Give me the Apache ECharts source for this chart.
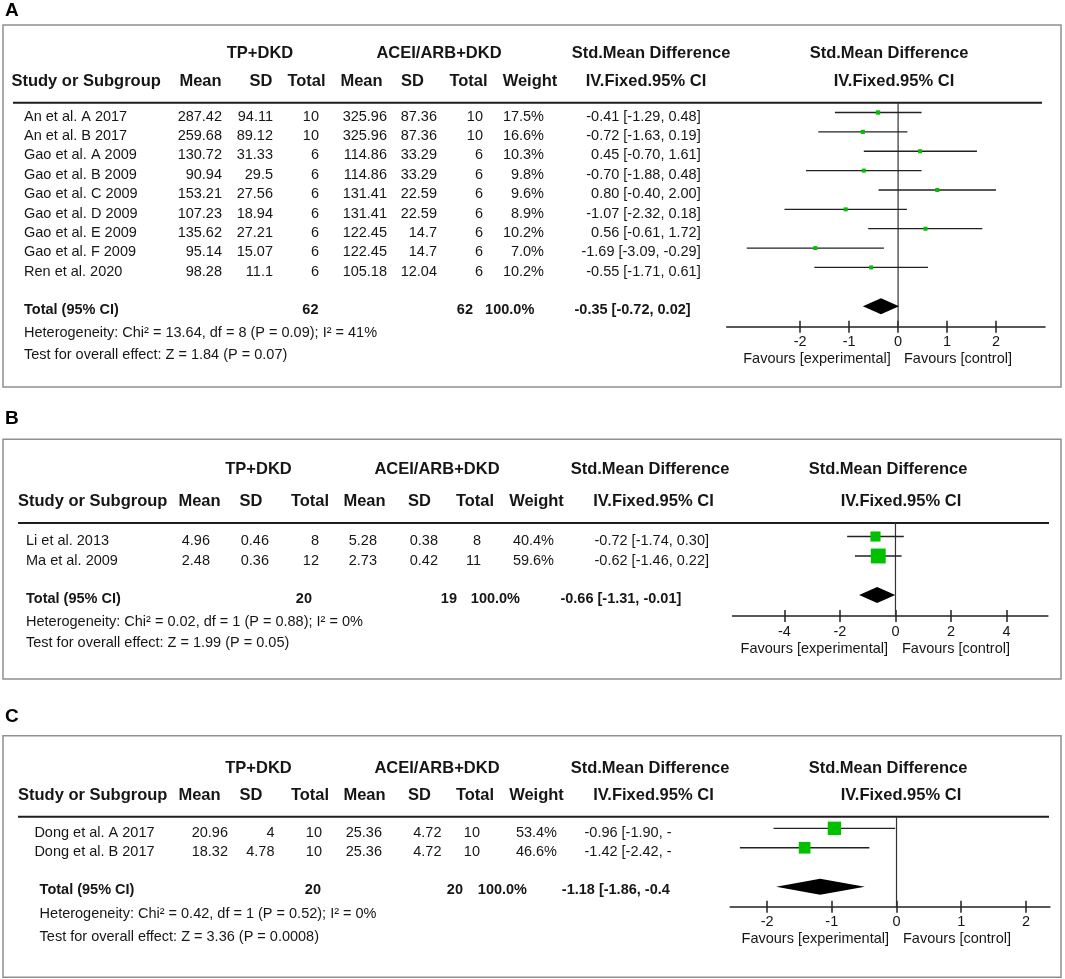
<!DOCTYPE html>
<html><head><meta charset="utf-8">
<script src="https://cdn.jsdelivr.net/npm/echarts@6/dist/echarts.min.js"></script>
<style>html,body{margin:0;padding:0;background:#fff;}#c{width:1065px;height:979px;}</style>
</head><body><div id="c"></div>
<script>
// ---------------- DATA ----------------
const header1Labels = ['TP+DKD', 'ACEI/ARB+DKD', 'Std.Mean Difference', 'Std.Mean Difference'];
const header2Labels = ['Study or Subgroup', 'Mean', 'SD', 'Total', 'Mean', 'SD', 'Total', 'Weight', 'IV.Fixed.95% CI', 'IV.Fixed.95% CI'];
const favoursLabels = ['Favours [experimental]', 'Favours [control]'];

// Panel A
const studiesA = ['An et al. A 2017', 'An et al. B 2017', 'Gao et al. A 2009', 'Gao et al. B 2009', 'Gao et al. C 2009', 'Gao et al. D 2009', 'Gao et al. E 2009', 'Gao et al. F 2009', 'Ren et al. 2020'];
const meanTA = [287.42, 259.68, 130.72, 90.94, 153.21, 107.23, 135.62, 95.14, 98.28];
const sdTA = [94.11, 89.12, 31.33, 29.5, 27.56, 18.94, 27.21, 15.07, 11.1];
const nTA = [10, 10, 6, 6, 6, 6, 6, 6, 6];
const meanCA = [325.96, 325.96, 114.86, 114.86, 131.41, 131.41, 122.45, 122.45, 105.18];
const sdCA = [87.36, 87.36, 33.29, 33.29, 22.59, 22.59, 14.7, 14.7, 12.04];
const nCA = [10, 10, 6, 6, 6, 6, 6, 6, 6];
const weightA = [17.5, 16.6, 10.3, 9.8, 9.6, 8.9, 10.2, 7.0, 10.2];
const smdA = [-0.41, -0.72, 0.45, -0.70, 0.80, -1.07, 0.56, -1.69, -0.55];
const loA = [-1.29, -1.63, -0.70, -1.88, -0.40, -2.32, -0.61, -3.09, -1.71];
const hiA = [0.48, 0.19, 1.61, 0.48, 2.00, 0.18, 1.72, -0.29, 0.61];
const totalA = [-0.35, -0.72, 0.02];
const hetA = 'Heterogeneity: Chi\u00b2 = 13.64, df = 8 (P = 0.09); I\u00b2 = 41%';
const testA = 'Test for overall effect: Z = 1.84 (P = 0.07)';
const ticksA = [-2, -1, 0, 1, 2];

// Panel B
const studiesB = ['Li et al. 2013', 'Ma et al. 2009'];
const meanTB = [4.96, 2.48];
const sdTB = [0.46, 0.36];
const nTB = [8, 12];
const meanCB = [5.28, 2.73];
const sdCB = [0.38, 0.42];
const nCB = [8, 11];
const weightB = [40.4, 59.6];
const smdB = [-0.72, -0.62];
const loB = [-1.74, -1.46];
const hiB = [0.30, 0.22];
const totalB = [-0.66, -1.31, -0.01];
const hetB = 'Heterogeneity: Chi\u00b2 = 0.02, df = 1 (P = 0.88); I\u00b2 = 0%';
const testB = 'Test for overall effect: Z = 1.99 (P = 0.05)';
const ticksB = [-4, -2, 0, 2, 4];

// Panel C
const studiesC = ['Dong et al. A 2017', 'Dong et al. B 2017'];
const meanTC = [20.96, 18.32];
const sdTC = [4, 4.78];
const nTC = [10, 10];
const meanCC = [25.36, 25.36];
const sdCC = [4.72, 4.72];
const nCC = [10, 10];
const weightC = [53.4, 46.6];
const smdC = [-0.96, -1.42];
const loC = [-1.90, -2.42];
const hiC = [-0.02, -0.42];
const totalC = [-1.18, -1.86, -0.49];
const hetC = 'Heterogeneity: Chi\u00b2 = 0.42, df = 1 (P = 0.52); I\u00b2 = 0%';
const testC = 'Test for overall effect: Z = 3.36 (P = 0.0008)';
const ticksC = [-2, -1, 0, 1, 2];

// ---------------- LAYOUT ----------------
const FONT = "'Liberation Sans', Arial, Helvetica, sans-serif";
const INK = '#161616';

const LA = {
  label: 'A', labelX: 5, labelY: 11,
  box: [3, 25, 1058, 362],
  h1y: 53.3, h1x: [260, 439, 651, 889],
  h2y: 81.7, h2x: [11.4, 200.5, 261, 306.5, 361.5, 412.5, 468.5, 530, 646, 894],
  hlineY: 102.7, hlineX: [13, 1042],
  rowY0: 116.7, rowH: 19.37,
  col: { study: 24, m1: 222, s1: 273, n1: 319, m2: 387, s2: 437, n2: 483, w: 544, ci: 700.7 },
  totY: 309.5, tot: { label: 24, n1: 318.5, n2: 473, w: 534.3, ci: 690.6 },
  hetY: 333.3, testY: 355, hetX: 24,
  favY: 359, favExpR: 890.7, favCtrlL: 904,
  grid: { left: 726.7, top: 102.7, width: 318.3, height: 224 },
  xMin: -3.5, xMax: 3,
  markY0: 112.5, markH: 19.37, totalRow: 10
};
const LB = {
  label: 'B', labelX: 5, labelY: 419,
  box: [3, 439.3, 1058, 239.7],
  h1y: 469.3, h1x: [258.5, 437, 650, 888],
  h2y: 501.7, h2x: [18, 199.5, 251, 310, 364.5, 419.5, 475, 536.5, 653.5, 901],
  hlineY: 523, hlineX: [18, 1049],
  rowY0: 541, rowH: 19.5,
  col: { study: 26, m1: 210, s1: 269, n1: 319, m2: 377, s2: 438, n2: 481, w: 554, ci: 709 },
  totY: 599.3, tot: { label: 26, n1: 312, n2: 457, w: 520, ci: 681.3 },
  hetY: 621.7, testY: 643.3, hetX: 26,
  favY: 649.3, favExpR: 888, favCtrlL: 902,
  grid: { left: 732.5, top: 523, width: 315.4, height: 93 },
  xMin: -5.87, xMax: 5.49,
  markY0: 536.5, markH: 19.5, totalRow: 3
};
// In panel C the CI column is clipped in the original figure; only the visible characters are drawn
const LC = {
  label: 'C', labelX: 5, labelY: 717,
  box: [3, 735.7, 1058, 241.6],
  h1y: 768.3, h1x: [258.5, 437, 650, 888],
  h2y: 795.7, h2x: [18, 199.5, 251, 310, 364.5, 419.5, 475, 536.5, 653.5, 901],
  hlineY: 816.7, hlineX: [18, 1049],
  rowY0: 832.7, rowH: 19.3,
  col: { study: 34.4, m1: 228, s1: 274.5, n1: 322, m2: 382, s2: 441.5, n2: 480, w: 557, ciL: 584.5, ciChars: 15 },
  totY: 889.5, tot: { label: 39.6, n1: 321, n2: 463, w: 527, ciL: 561.8, ciChars: 18 },
  hetY: 914, testY: 937.3, hetX: 39.6,
  favY: 939.3, favExpR: 889, favCtrlL: 903,
  grid: { left: 730.2, top: 816.7, width: 319.7, height: 90 },
  xMin: -2.57, xMax: 2.37,
  markY0: 828.3, markH: 19.47, totalRow: 3
};

const DA = { studies: studiesA, m1: meanTA, s1: sdTA, n1: nTA, m2: meanCA, s2: sdCA, n2: nCA, w: weightA, smd: smdA, lo: loA, hi: hiA, total: totalA, het: hetA, test: testA, ticks: ticksA };
const DB = { studies: studiesB, m1: meanTB, s1: sdTB, n1: nTB, m2: meanCB, s2: sdCB, n2: nCB, w: weightB, smd: smdB, lo: loB, hi: hiB, total: totalB, het: hetB, test: testB, ticks: ticksB };
const DC = { studies: studiesC, m1: meanTC, s1: sdTC, n1: nTC, m2: meanCC, s2: sdCC, n2: nCC, w: weightC, smd: smdC, lo: loC, hi: hiC, total: totalC, het: hetC, test: testC, ticks: ticksC };

function T(x, y, s, o) {
  o = o || {};
  const st = {
    text: String(s), fill: o.color || INK, fontSize: o.size || 14.5,
    fontWeight: o.bold ? 'bold' : 'normal', fontFamily: FONT,
    align: o.align || 'left', textAlign: o.align || 'left',
    verticalAlign: 'middle', textVerticalAlign: 'middle'
  };
  return { type: 'text', x: x, y: y, silent: true, style: st };
}
function ciText(e, l, h) { return e.toFixed(2) + ' [' + l.toFixed(2) + ', ' + h.toFixed(2) + ']'; }
const sum = a => a.reduce((p, c) => p + c, 0);

function panelGraphics(L, D) {
  const g = [];
  g.push({ type: 'rect', silent: true, shape: { x: L.box[0], y: L.box[1], width: L.box[2], height: L.box[3] }, style: { fill: 'none', stroke: '#8f8f8f', lineWidth: 1.5 } });
  g.push(T(L.labelX, L.labelY, L.label, { bold: true, size: 19, color: '#000' }));
  header1Labels.forEach((s, i) => g.push(T(L.h1x[i], L.h1y, s, { bold: true, size: 16.5, align: 'center' })));
  header2Labels.forEach((s, i) => g.push(T(L.h2x[i], L.h2y, s, { bold: true, size: 16.5, align: i === 0 ? 'left' : 'center' })));
  g.push({ type: 'line', silent: true, shape: { x1: L.hlineX[0], y1: L.hlineY, x2: L.hlineX[1], y2: L.hlineY }, style: { stroke: '#1e1e1e', lineWidth: 2 } });
  D.studies.forEach((s, i) => {
    const y = L.rowY0 + i * L.rowH;
    g.push(T(L.col.study, y, s));
    g.push(T(L.col.m1, y, D.m1[i], { align: 'right' }));
    g.push(T(L.col.s1, y, D.s1[i], { align: 'right' }));
    g.push(T(L.col.n1, y, D.n1[i], { align: 'right' }));
    g.push(T(L.col.m2, y, D.m2[i], { align: 'right' }));
    g.push(T(L.col.s2, y, D.s2[i], { align: 'right' }));
    g.push(T(L.col.n2, y, D.n2[i], { align: 'right' }));
    g.push(T(L.col.w, y, D.w[i].toFixed(1) + '%', { align: 'right' }));
    const ci = ciText(D.smd[i], D.lo[i], D.hi[i]);
    if (L.col.ciChars) g.push(T(L.col.ciL, y, ci.slice(0, L.col.ciChars)));
    else g.push(T(L.col.ci, y, ci, { align: 'right' }));
  });
  const ty = L.totY;
  g.push(T(L.tot.label, ty, 'Total (95% CI)', { bold: true }));
  g.push(T(L.tot.n1, ty, sum(D.n1), { bold: true, align: 'right' }));
  g.push(T(L.tot.n2, ty, sum(D.n2), { bold: true, align: 'right' }));
  g.push(T(L.tot.w, ty, '100.0%', { bold: true, align: 'right' }));
  const tci = ciText(D.total[0], D.total[1], D.total[2]);
  if (L.tot.ciChars) g.push(T(L.tot.ciL, ty, tci.slice(0, L.tot.ciChars), { bold: true }));
  else g.push(T(L.tot.ci, ty, tci, { bold: true, align: 'right' }));
  g.push(T(L.hetX, L.hetY, D.het));
  g.push(T(L.hetX, L.testY, D.test));
  g.push(T(L.favExpR, L.favY, favoursLabels[0], { align: 'right' }));
  g.push(T(L.favCtrlL, L.favY, favoursLabels[1]));
  return g;
}

function renderStudy(params, api) {
  const y = api.value(3);
  const c = api.coord([api.value(0), y]);
  const l = api.coord([api.value(1), y]);
  const h = api.coord([api.value(2), y]);
  const s = Math.max(4, 0.25 * api.value(4));
  return {
    type: 'group', children: [
      { type: 'line', shape: { x1: l[0], y1: l[1], x2: h[0], y2: h[1] }, style: { stroke: '#222', lineWidth: 1.3 } },
      { type: 'rect', shape: { x: c[0] - s / 2, y: c[1] - s / 2, width: s, height: s }, style: { fill: '#00c000' } }
    ]
  };
}
function renderDiamond(params, api) {
  const y = api.value(3);
  const e = api.coord([api.value(0), y]);
  const l = api.coord([api.value(1), y]);
  const h = api.coord([api.value(2), y]);
  const hh = 8;
  return {
    type: 'polygon',
    shape: { points: [[l[0], l[1]], [e[0], e[1] - hh], [h[0], h[1]], [e[0], e[1] + hh]] },
    style: { fill: '#000' }
  };
}

const grids = [], xAxes = [], yAxes = [], series = [];
let graphics = [];
[[LA, DA], [LB, DB], [LC, DC]].forEach(([L, D], p) => {
  grids.push({ left: L.grid.left, top: L.grid.top, width: L.grid.width, height: L.grid.height, containLabel: false });
  const yMin = (L.grid.top - L.markY0) / L.markH;
  const yMax = (L.grid.top + L.grid.height - L.markY0) / L.markH;
  xAxes.push({
    gridIndex: p, type: 'value', min: L.xMin, max: L.xMax, position: 'bottom',
    axisLine: { show: true, onZero: false, lineStyle: { color: '#222', width: 1.5 } },
    axisTick: { show: true, inside: false, length: 6, customValues: D.ticks, lineStyle: { color: '#222', width: 1.5 } },
    axisLabel: { show: true, customValues: D.ticks, margin: 8, color: INK, fontSize: 14.5, fontFamily: FONT },
    splitLine: { show: false }
  });
  xAxes.push({
    gridIndex: p, type: 'value', min: L.xMin, max: L.xMax, position: 'bottom',
    axisLine: { show: false, onZero: false },
    axisTick: { show: true, inside: true, length: 6, customValues: D.ticks, lineStyle: { color: '#222', width: 1.5 } },
    axisLabel: { show: false }, splitLine: { show: false }
  });
  yAxes.push({ gridIndex: p, type: 'value', inverse: true, min: yMin, max: yMax, show: false, splitLine: { show: false } });
  series.push({
    type: 'line', xAxisIndex: 2 * p, yAxisIndex: p, data: [[0, yMin], [0, yMax]],
    symbol: 'none', silent: true, z: 1, lineStyle: { color: '#333', width: 1.2 }
  });
  series.push({
    type: 'custom', xAxisIndex: 2 * p, yAxisIndex: p, renderItem: renderStudy, silent: true, z: 3,
    encode: { x: [0, 1, 2], y: 3 },
    data: D.smd.map((v, i) => [v, D.lo[i], D.hi[i], i, D.w[i]])
  });
  series.push({
    type: 'custom', xAxisIndex: 2 * p, yAxisIndex: p, renderItem: renderDiamond, silent: true, z: 3,
    encode: { x: [0, 1, 2], y: 3 },
    data: [[D.total[0], D.total[1], D.total[2], L.totalRow]]
  });
  graphics = graphics.concat(panelGraphics(L, D));
});

const chart = echarts.init(document.getElementById('c'), null, { renderer: 'canvas' });
chart.setOption({
  animation: false,
  backgroundColor: '#fff',
  grid: grids, xAxis: xAxes, yAxis: yAxes, series: series,
  graphic: { elements: graphics }
});
</script></body></html>
